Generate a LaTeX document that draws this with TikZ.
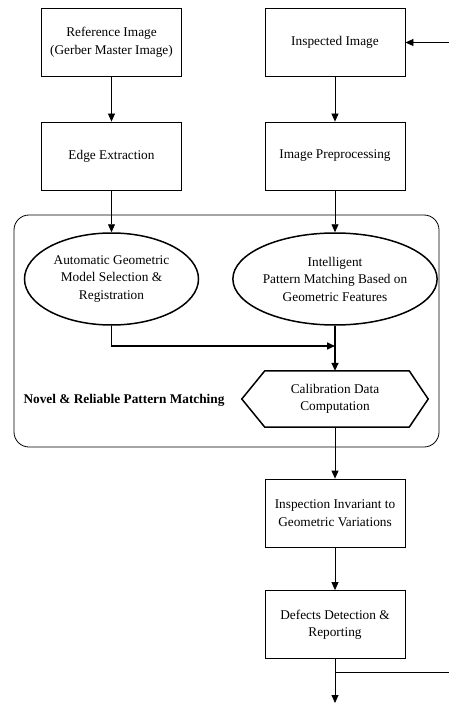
\documentclass[tikz,border=0pt]{standalone}
\usepackage{fontspec}
\setmainfont{Liberation Serif}
\usetikzlibrary{shapes.geometric,arrows.meta}
\begin{document}
\begin{tikzpicture}[x=1pt,y=-1pt,
  font=\fontsize{13.3}{17.5}\selectfont,
  box/.style={draw,line width=0.8pt,minimum width=140pt,minimum height=68pt,inner sep=0pt,align=center},
  oval/.style={draw,ellipse,line width=1.5pt,inner sep=0pt,minimum height=92pt,align=center},
  arr/.style={line width=0.8pt,-{Triangle[length=8pt,width=7pt]}},
  tarr/.style={line width=1.6pt,-{Triangle[length=8pt,width=7pt]}},
  ln/.style={line width=0.8pt}]
\useasboundingbox (0,0) rectangle (449,703);
% container
\draw[line width=0.8pt,rounded corners=15pt] (14,215) rectangle (439,447);
\node[font=\fontsize{13.3}{16}\selectfont\bfseries,anchor=west] (lbl) at (20,400) {Novel \& Reliable Pattern Matching};
% boxes
\node[box] (ref) at (111.5,42.5) {Reference Image\\(Gerber Master Image)};
\node[box] (ins) at (335,42.5) {Inspected Image};
\node[box] (edge) at (111.5,156) {Edge Extraction};
\node[box] (pre) at (335,156) {Image Preprocessing};
\node[oval,minimum width=174pt] (e1) at (111.5,279) {Automatic Geometric\\Model Selection \&\\Registration};
\node[oval,minimum width=188pt] (e2) at (335,279) {Intelligent\\Pattern Matching Based on\\Geometric Features};
\node[minimum width=186pt,minimum height=56pt,inner sep=0pt,align=center] (hex) at (335,399) {Calibration Data\\Computation};
\draw[line width=1.5pt] ([xshift=23pt]hex.north west) -- ([xshift=-19pt]hex.north east) -- (hex.east)
  -- ([xshift=-19pt]hex.south east) -- ([xshift=23pt]hex.south west) -- (hex.west) -- cycle;
\node[box] (inv) at (335,513) {Inspection Invariant to\\Geometric Variations};
\node[box] (def) at (335,624.5) {Defects Detection \&\\Reporting};
% coordinates
\coordinate (inR) at (449,42.5);
\coordinate (j) at (335,346);
\coordinate (out) at (335,703);
\coordinate (br) at (335,672);
\coordinate (brR) at (449,672);
% connectors
\draw[arr] (inR) -- (ins.east);
\draw[arr] (ref.south) -- (edge.north);
\draw[arr] (ins.south) -- (pre.north);
\draw[arr] (edge.south) -- (e1.north);
\draw[arr] (pre.south) -- (e2.north);
\draw[tarr] (e1.south) |- (j);
\draw[tarr] (e2.south) -- (hex.north);
\draw[arr] (hex.south) -- (inv.north);
\draw[arr] (inv.south) -- (def.north);
\draw[arr] (def.south) -- (out);
\draw[ln] (br) -- (brR);
\end{tikzpicture}
\end{document}
